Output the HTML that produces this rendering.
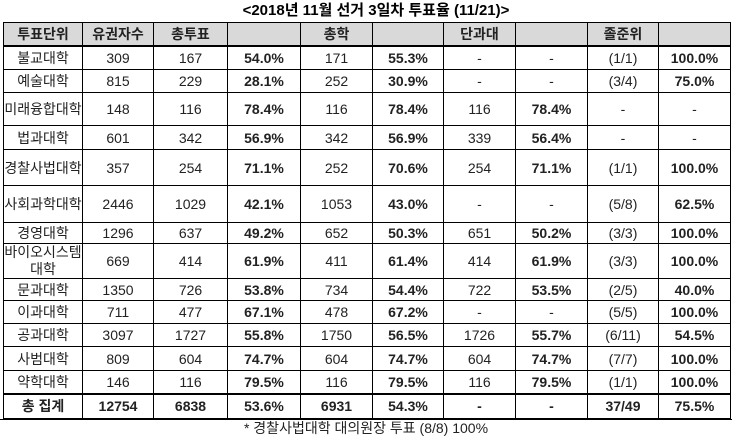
<!DOCTYPE html>
<html><head><meta charset="utf-8"><style>
body{margin:0;width:732px;height:436px;background:#fff;overflow:hidden;font-family:"Liberation Sans","Noto Sans CJK KR","NanumGothic",sans-serif;}
#title{position:absolute;left:0;top:0;width:732px;height:22px;line-height:22px;text-align:center;font-weight:bold;font-size:15px;padding-left:20px;box-sizing:border-box}
table{position:absolute;left:3px;top:22px;border-collapse:collapse;table-layout:fixed;width:727px}
td{border:1px solid #000;text-align:center;font-size:14px;padding:0;color:#222}
tr.hd td{background:#d9d9d9;font-weight:bold;border-bottom:2px solid #000}
tr.tot td{border-top:2px solid #000;font-weight:bold}
td.b{font-weight:bold}
#foot{position:absolute;left:0;top:419px;width:732px;height:17px;line-height:17px;text-align:center;font-size:14px;color:#222;border-top:1px solid #000}
</style></head><body>
<div id="title">&lt;2018년 11월 선거 3일차 투표율 (11/21)&gt;</div>
<table>
<colgroup><col style="width:79px"><col style="width:71px"><col style="width:74px"><col style="width:73px"><col style="width:72px"><col style="width:71px"><col style="width:72px"><col style="width:72px"><col style="width:71px"><col style="width:72px"></colgroup>
<tr class="hd" style="height:23px"><td>투표단위</td><td>유권자수</td><td>총투표</td><td></td><td>총학</td><td></td><td>단과대</td><td></td><td>졸준위</td><td></td></tr>
<tr style="height:24px"><td>불교대학</td><td>309</td><td>167</td><td class="b">54.0%</td><td>171</td><td class="b">55.3%</td><td>-</td><td>-</td><td>(1/1)</td><td class="b">100.0%</td></tr>
<tr style="height:23px"><td>예술대학</td><td>815</td><td>229</td><td class="b">28.1%</td><td>252</td><td class="b">30.9%</td><td>-</td><td>-</td><td>(3/4)</td><td class="b">75.0%</td></tr>
<tr style="height:33px"><td>미래융합대학</td><td>148</td><td>116</td><td class="b">78.4%</td><td>116</td><td class="b">78.4%</td><td>116</td><td class="b">78.4%</td><td>-</td><td>-</td></tr>
<tr style="height:24px"><td>법과대학</td><td>601</td><td>342</td><td class="b">56.9%</td><td>342</td><td class="b">56.9%</td><td>339</td><td class="b">56.4%</td><td>-</td><td>-</td></tr>
<tr style="height:36px"><td>경찰사법대학</td><td>357</td><td>254</td><td class="b">71.1%</td><td>252</td><td class="b">70.6%</td><td>254</td><td class="b">71.1%</td><td>(1/1)</td><td class="b">100.0%</td></tr>
<tr style="height:37px"><td>사회과학대학</td><td>2446</td><td>1029</td><td class="b">42.1%</td><td>1053</td><td class="b">43.0%</td><td>-</td><td>-</td><td>(5/8)</td><td class="b">62.5%</td></tr>
<tr style="height:21px"><td>경영대학</td><td>1296</td><td>637</td><td class="b">49.2%</td><td>652</td><td class="b">50.3%</td><td>651</td><td class="b">50.2%</td><td>(3/3)</td><td class="b">100.0%</td></tr>
<tr style="height:35px"><td style="line-height:17px">바이오시스템<br>대학</td><td>669</td><td>414</td><td class="b">61.9%</td><td>411</td><td class="b">61.4%</td><td>414</td><td class="b">61.9%</td><td>(3/3)</td><td class="b">100.0%</td></tr>
<tr style="height:22px"><td>문과대학</td><td>1350</td><td>726</td><td class="b">53.8%</td><td>734</td><td class="b">54.4%</td><td>722</td><td class="b">53.5%</td><td>(2/5)</td><td class="b">40.0%</td></tr>
<tr style="height:23px"><td>이과대학</td><td>711</td><td>477</td><td class="b">67.1%</td><td>478</td><td class="b">67.2%</td><td>-</td><td>-</td><td>(5/5)</td><td class="b">100.0%</td></tr>
<tr style="height:23px"><td>공과대학</td><td>3097</td><td>1727</td><td class="b">55.8%</td><td>1750</td><td class="b">56.5%</td><td>1726</td><td class="b">55.7%</td><td>(6/11)</td><td class="b">54.5%</td></tr>
<tr style="height:24px"><td>사범대학</td><td>809</td><td>604</td><td class="b">74.7%</td><td>604</td><td class="b">74.7%</td><td>604</td><td class="b">74.7%</td><td>(7/7)</td><td class="b">100.0%</td></tr>
<tr style="height:23px"><td>약학대학</td><td>146</td><td>116</td><td class="b">79.5%</td><td>116</td><td class="b">79.5%</td><td>116</td><td class="b">79.5%</td><td>(1/1)</td><td class="b">100.0%</td></tr>
<tr class="tot" style="height:25px"><td>총 집계</td><td>12754</td><td>6838</td><td>53.6%</td><td>6931</td><td>54.3%</td><td>-</td><td>-</td><td>37/49</td><td>75.5%</td></tr>
</table>
<div id="foot">* 경찰사법대학 대의원장 투표 (8/8) 100%</div>
</body></html>
